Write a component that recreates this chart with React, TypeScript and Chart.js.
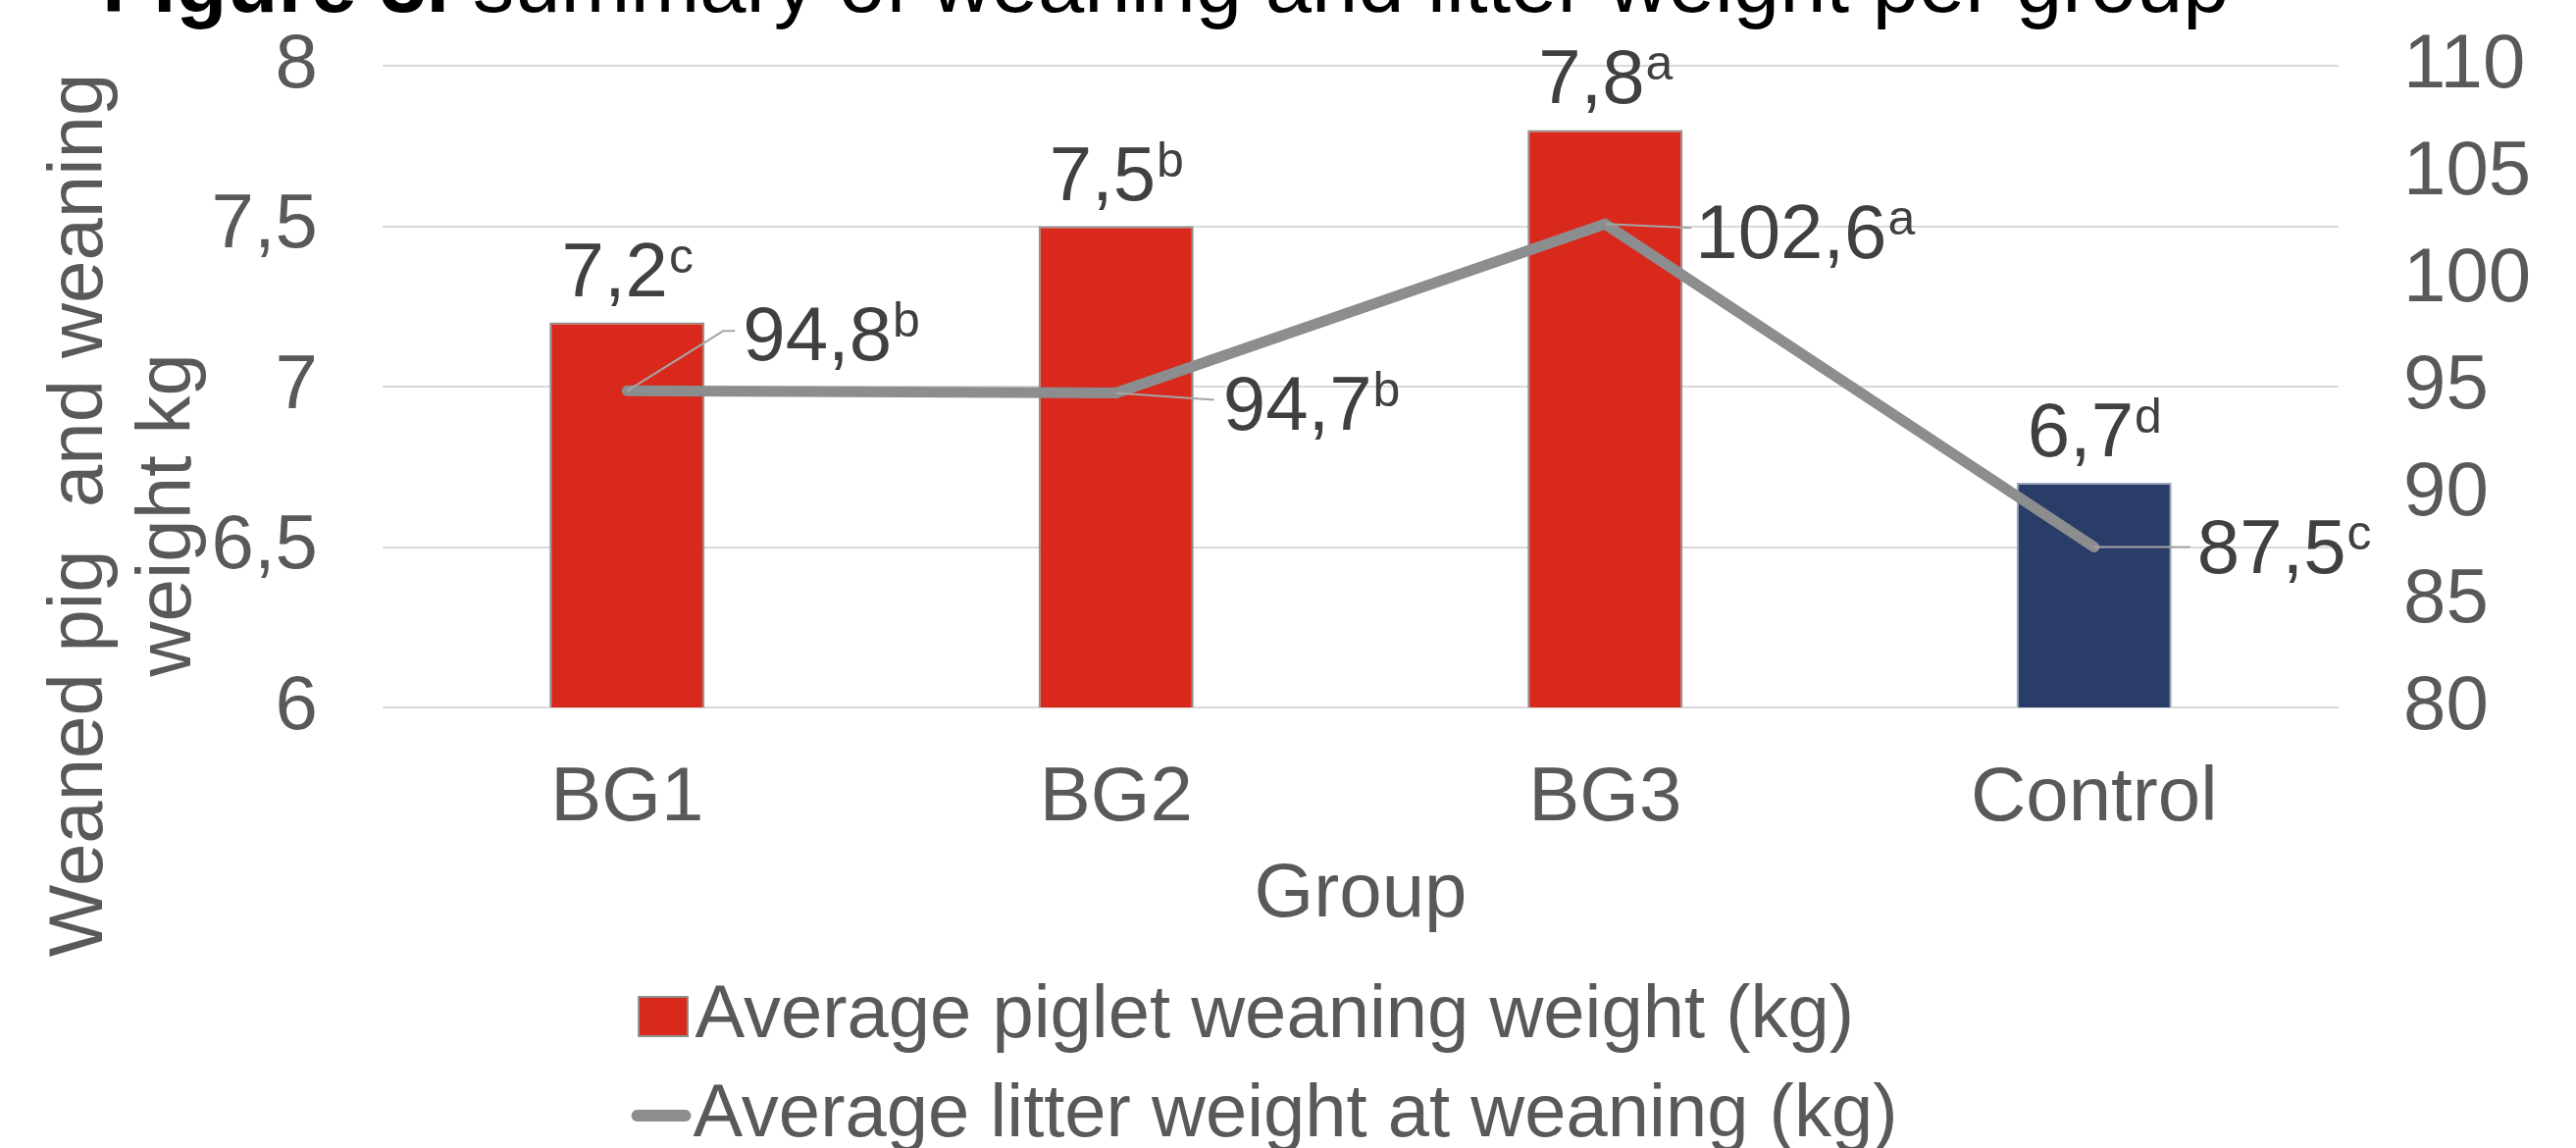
import React, { useEffect, useRef } from 'react';
import { Chart, registerables } from 'chart.js';

Chart.register(...registerables);

// ---------- data ----------
const categories = ['BG1', 'BG2', 'BG3', 'Control'];
const pigletWeight = [7.2, 7.5, 7.8, 6.7];
const pigletLetters = ['c', 'b', 'a', 'd'];
const litterWeight = [94.8, 94.7, 102.6, 87.5];
const litterLetters = ['b', 'b', 'a', 'c'];
const seriesNames = ['Average piglet weaning weight (kg)', 'Average litter weight at weaning (kg)'];
const leftRange = [6, 8];
const leftStep = 0.5;
const rightRange = [80, 110];
const rightStep = 5;
const titleBold = 'Figure 3.';
const titleRest = ' summary of weaning and litter weight per group';
const yTitleLines = ['Weaned pig  and weaning', 'weight kg'];
const xTitle = 'Group';

// ---------- styles ----------
const FONT = '"Liberation Sans", Arial, Helvetica, sans-serif';
const RED = '#D9291C';
const NAVY = '#2A3C68';
const LINE = '#8C8D8F';
const AXIS_TEXT = '#595959';
const LABEL_TEXT = '#404040';
const barColors = [RED, RED, RED, NAVY];
const barBorders = ['#8E8E8E', '#8E8E8E', '#8E8E8E', '#9AA5BA'];
// label placement relative to each line point (leader elbow / end, text origin)
const lineLabelOffsets = [
  { lx: 98, ly: -61, ex: 110, tx: 118, ty: -31 },
  { lx: 100, ly: 7, ex: 100, tx: 109, ty: 37 },
  { lx: 88, ly: 4, ex: 88, tx: 92, ty: 35 },
  { lx: 98, ly: 0, ex: 98, tx: 105, ty: 26 },
];
const LEGEND_SHIFT = -37;

const fmt = (v: number) => (Math.round(v * 10) / 10).toString().replace('.', ',');

function drawSup(ctx: CanvasRenderingContext2D, main: string, sup: string, x: number, y: number, align: 'left' | 'center') {
  ctx.textAlign = 'left';
  ctx.textBaseline = 'alphabetic';
  ctx.font = `78px ${FONT}`;
  const mw = ctx.measureText(main).width;
  ctx.font = `50px ${FONT}`;
  const sw = ctx.measureText(sup).width;
  const start = align === 'center' ? x - (mw + sw) / 2 : x;
  ctx.fillStyle = LABEL_TEXT;
  ctx.font = `78px ${FONT}`;
  ctx.fillText(main, start, y);
  ctx.font = `50px ${FONT}`;
  ctx.fillText(sup, start + mw + 1, y - 24);
}

const noScalePadding = (s: any) => {
  s.paddingTop = 0;
  s.paddingBottom = 0;
  s.paddingLeft = 0;
  s.paddingRight = 0;
};

const textPlugin = {
  id: 'texts',
  afterLayout(chart: any) {
    const lg = chart.legend;
    if (lg) {
      lg.left += LEGEND_SHIFT;
      lg.right += LEGEND_SHIFT;
    }
  },
  afterDatasetsDraw(chart: any) {
    const ctx: CanvasRenderingContext2D = chart.ctx;
    ctx.save();
    const barMeta = chart.getDatasetMeta(0);
    barMeta.data.forEach((el: any, i: number) => {
      const p = el.getProps(['x', 'y'], true);
      drawSup(ctx, fmt(pigletWeight[i]), pigletLetters[i], p.x, p.y - 27, 'center');
    });
    const lineMeta = chart.getDatasetMeta(1);
    lineMeta.data.forEach((el: any, i: number) => {
      const p = el.getProps(['x', 'y'], true);
      const o = lineLabelOffsets[i];
      ctx.strokeStyle = '#A6A6A6';
      ctx.lineWidth = 2;
      ctx.beginPath();
      ctx.moveTo(p.x, p.y);
      ctx.lineTo(p.x + o.lx, p.y + o.ly);
      ctx.lineTo(p.x + o.ex, p.y + o.ly);
      ctx.stroke();
      drawSup(ctx, fmt(litterWeight[i]), litterLetters[i], p.x + o.tx, p.y + o.ty, 'left');
    });
    ctx.restore();
  },
  afterDraw(chart: any) {
    const ctx: CanvasRenderingContext2D = chart.ctx;
    ctx.save();
    ctx.fillStyle = '#000000';
    ctx.textAlign = 'left';
    ctx.textBaseline = 'alphabetic';
    ctx.font = `bold 85px ${FONT}`;
    ctx.fillText(titleBold, 104, 12);
    const w = ctx.measureText(titleBold).width;
    ctx.font = `85px ${FONT}`;
    ctx.fillText(titleRest, 104 + w, 12);

    ctx.fillStyle = AXIS_TEXT;
    ctx.font = `78px ${FONT}`;
    ctx.textAlign = 'center';
    const baselines = [104, 194];
    yTitleLines.forEach((t, i) => {
      ctx.save();
      ctx.translate(baselines[i], 525);
      ctx.rotate(-Math.PI / 2);
      ctx.fillText(t, 0, 0);
      ctx.restore();
    });
    ctx.restore();
  },
};

export default function App() {
  const ref = useRef<HTMLCanvasElement>(null);

  useEffect(() => {
    const canvas = ref.current;
    if (!canvas) return;
    Chart.defaults.font.family = FONT;

    const boxMarker = document.createElement('canvas');
    boxMarker.width = 114;
    boxMarker.height = 42;
    {
      const g = boxMarker.getContext('2d')!;
      g.fillStyle = RED;
      g.fillRect(63, 1, 50, 40);
      g.strokeStyle = '#8E8E8E';
      g.lineWidth = 2;
      g.strokeRect(63, 1, 50, 40);
    }
    const lineMarker = document.createElement('canvas');
    lineMarker.width = 124;
    lineMarker.height = 14;
    {
      const g = lineMarker.getContext('2d')!;
      g.strokeStyle = LINE;
      g.lineWidth = 12;
      g.lineCap = 'round';
      g.beginPath();
      g.moveTo(68.5, 7);
      g.lineTo(117.5, 7);
      g.stroke();
    }

    const chart = new Chart(canvas, {
      type: 'bar',
      data: {
        labels: categories,
        datasets: [
          {
            type: 'bar',
            label: seriesNames[0],
            data: pigletWeight,
            backgroundColor: barColors,
            borderColor: barBorders,
            borderWidth: 2,
            yAxisID: 'y',
            order: 1,
            categoryPercentage: 1,
            barPercentage: 0.317,
          } as any,
          {
            type: 'line',
            label: seriesNames[1],
            data: litterWeight,
            borderColor: LINE,
            backgroundColor: LINE,
            borderWidth: 11,
            borderCapStyle: 'round',
            borderJoinStyle: 'miter',
            pointRadius: 0,
            pointHoverRadius: 0,
            tension: 0,
            yAxisID: 'y1',
            order: 0,
          } as any,
        ],
      },
      options: {
        responsive: false,
        animation: false,
        devicePixelRatio: 1,
        layout: { autoPadding: false, padding: { top: 67, left: 0, right: 0, bottom: -15 } },
        scales: {
          x: {
            grid: { display: false, drawTicks: false },
            border: { display: false },
            ticks: { color: AXIS_TEXT, font: { size: 78 }, padding: 47 },
            title: { display: true, text: xTitle, color: AXIS_TEXT, font: { size: 78 }, padding: { top: 0, bottom: 14 } },
            afterFit: (s: any) => { s.height = 252; noScalePadding(s); },
          },
          y: {
            position: 'left',
            min: leftRange[0],
            max: leftRange[1],
            ticks: {
              stepSize: leftStep,
              color: AXIS_TEXT,
              font: { size: 78 },
              padding: 66,
              callback: (v: any) => fmt(Number(v)),
            },
            grid: { color: '#D9D9D9', lineWidth: 2, drawTicks: false },
            border: { display: false },
            afterFit: (s: any) => { s.width = 390; noScalePadding(s); },
          },
          y1: {
            position: 'right',
            min: rightRange[0],
            max: rightRange[1],
            ticks: { stepSize: rightStep, color: AXIS_TEXT, font: { size: 78 }, padding: 66 },
            grid: { display: false, drawTicks: false },
            border: { display: false },
            afterFit: (s: any) => { s.width = 242; noScalePadding(s); },
          },
        } as any,
        plugins: {
          tooltip: { enabled: false },
          title: { display: false },
          legend: {
            position: 'bottom',
            align: 'center',
            labels: {
              color: AXIS_TEXT,
              font: { size: 76 },
              usePointStyle: true,
              pointStyleWidth: 51,
              boxHeight: 40,
              padding: 25,
              generateLabels: (ch: any) => {
                const items = (Chart.defaults.plugins.legend.labels as any).generateLabels(ch);
                return items
                  .sort((a: any, b: any) => a.datasetIndex - b.datasetIndex)
                  .map((it: any) => ({
                    ...it,
                    text: it.datasetIndex === 0 ? it.text + '  ' : it.text,
                    pointStyle: it.datasetIndex === 0 ? boxMarker : lineMarker,
                  }));
              },
            },
          } as any,
        },
      },
      plugins: [textPlugin],
    });

    return () => chart.destroy();
  }, []);

  return (
    <div style={{ position: 'absolute', left: 0, top: 0, width: 2626, height: 1170, background: '#fff' }}>
      <canvas ref={ref} width={2626} height={1170} style={{ display: 'block' }} />
    </div>
  );
}
